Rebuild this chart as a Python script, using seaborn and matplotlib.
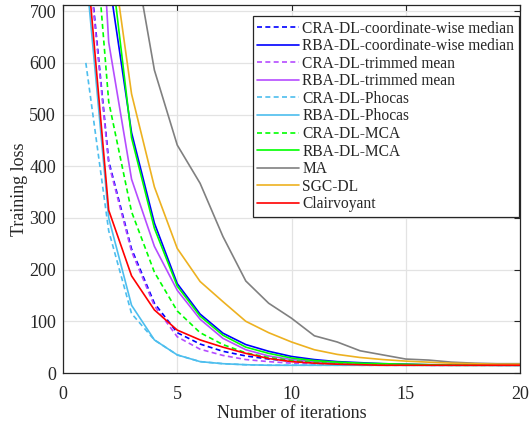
import numpy as np
import pandas as pd
import seaborn as sns
import matplotlib.pyplot as plt

iters = list(range(1, 21))

cra_median = [860, 410, 240, 135, 78, 56, 42, 33, 27, 23, 20, 18, 17, 16, 16, 15, 15, 15, 15, 15]
rba_median = [1250, 765, 465, 290, 173, 114, 77, 55, 42, 32, 26, 22, 20, 18, 17, 16, 16, 16, 15, 15]
cra_trimmed = [850, 405, 235, 130, 70, 46, 34, 26, 22, 19, 17, 16, 15, 15, 15, 15, 15, 15, 15, 15]
rba_trimmed = [1400, 640, 375, 245, 160, 104, 67, 45, 33, 26, 22, 19, 18, 17, 16, 15, 15, 15, 15, 15]
cra_phocas = [600, 275, 115, 64, 35, 22, 18, 16, 15, 15, 15, 15, 15, 15, 15, 15, 15, 15, 15, 15]
rba_phocas = [780, 300, 131, 64, 35, 22, 18, 16, 15, 15, 15, 15, 15, 15, 15, 15, 15, 15, 15, 15]
cra_mca = [1070, 525, 312, 195, 120, 78, 55, 39, 30, 24, 20, 18, 17, 16, 15, 15, 15, 15, 15, 15]
rba_mca = [1300, 830, 455, 280, 168, 110, 73, 50, 38, 29, 24, 21, 19, 18, 17, 16, 15, 15, 15, 15]
ma = [1600, 1150, 838, 586, 441, 367, 264, 178, 135, 106, 72, 60, 43, 35, 27, 25, 21, 19, 18, 18]
sgc = [1400, 858, 540, 360, 241, 177, 138, 100, 78, 60, 45, 36, 30, 26, 23, 21, 19, 18, 17, 17]
clairvoyant = [820, 315, 188, 122, 83, 64, 50, 38, 28, 22, 19, 17, 16, 15, 15, 15, 15, 15, 15, 15]

labels = ['CRA-DL-coordinate-wise median', 'RBA-DL-coordinate-wise median',
          'CRA-DL-trimmed mean', 'RBA-DL-trimmed mean',
          'CRA-DL-Phocas', 'RBA-DL-Phocas',
          'CRA-DL-MCA', 'RBA-DL-MCA', 'MA', 'SGC-DL', 'Clairvoyant']
series = [cra_median, rba_median, cra_trimmed, rba_trimmed, cra_phocas, rba_phocas,
          cra_mca, rba_mca, ma, sgc, clairvoyant]
colors = ['#0000FF', '#0000FF', '#B54CFF', '#B54CFF', '#4DBEEE', '#4DBEEE',
          '#00FF00', '#00FF00', '#808080', '#EDB120', '#FF0000']
dashed = [True, False, True, False, True, False, True, False, False, False, False]

sns.set_style("white")
plt.rcParams['font.family'] = ['Liberation Serif', 'DejaVu Serif']

fig = plt.figure(figsize=(5.30, 4.23), dpi=100)
ax = fig.add_axes([63 / 530, 1 - 373 / 423, 457 / 530, 368 / 423])

for lab, vals, col, dsh in zip(labels, series, colors, dashed):
    ls = (0, (3, 2)) if dsh else '-'
    sns.lineplot(x=iters, y=vals, ax=ax, color=col, linestyle=ls, linewidth=1.2, label=lab)

ax.set_xlim(0, 20)
ax.set_ylim(0, 712)
ax.set_xticks([0, 5, 10, 15, 20])
ax.set_yticks(np.arange(0, 701, 100))
ax.grid(True, color='#E3E3E3', linewidth=0.9)
ax.set_axisbelow(True)
for s in ax.spines.values():
    s.set_color('#262626')
    s.set_linewidth(0.9)
ax.tick_params(direction='in', top=True, right=True, length=4, width=0.8,
               labelsize=13, color='#262626', pad=5)
ax.tick_params(axis='x', pad=9)
ax.set_xlabel('Number of iterations', fontsize=13, labelpad=2)
ax.set_ylabel('Training loss', fontsize=13, labelpad=0.5)

leg = ax.legend(loc='upper right', bbox_to_anchor=(0.998, 0.970), borderaxespad=0,
                fontsize=11.2, frameon=True, fancybox=False, edgecolor='#262626',
                framealpha=1, labelspacing=0.1, handlelength=2.7, handletextpad=0.2,
                borderpad=0.3)
leg.get_frame().set_linewidth(0.9)

plt.savefig('out.png', dpi=100)
